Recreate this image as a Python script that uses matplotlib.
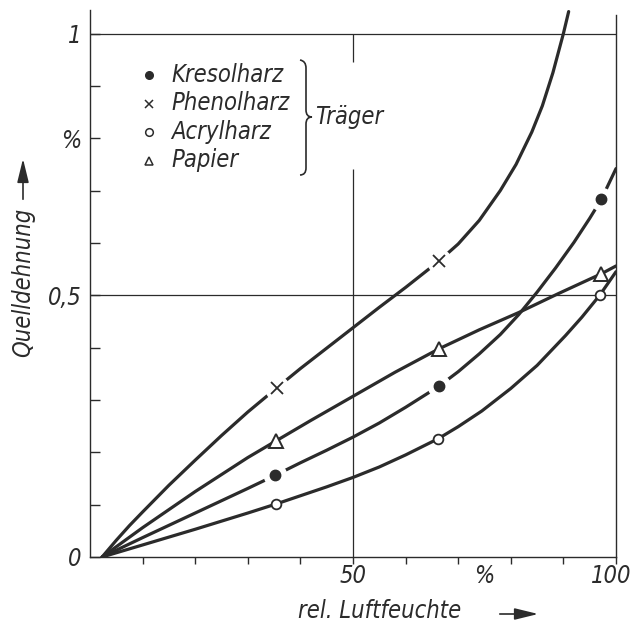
import matplotlib
matplotlib.use("Agg")
import matplotlib.pyplot as plt
from matplotlib.path import Path
from matplotlib.patches import PathPatch, FancyArrowPatch
from matplotlib.lines import Line2D

# values: rel. humidity (%) -> swelling (%)
kresol_x = [2.3, 10, 20, 30, 35.2, 40, 45, 50, 55, 60, 66.3, 70, 74, 78, 81.5, 85, 88.5, 92, 95, 97.2, 100]
kresol_y = [0, 0.037, 0.084, 0.131, 0.156, 0.18, 0.204, 0.229, 0.256, 0.286, 0.326, 0.354, 0.388, 0.425,
            0.463, 0.506, 0.552, 0.601, 0.647, 0.683, 0.742]
kresol_mx = [35.2, 66.3, 97.2]
kresol_my = [0.156, 0.326, 0.683]

phenol_x = [2.3, 5, 7.5, 10, 15, 20, 25, 30, 35.5, 40, 45, 50, 55, 60, 66.3, 70, 74, 78, 81, 84, 86, 88, 90, 91]
phenol_y = [0, 0.032, 0.06, 0.086, 0.137, 0.185, 0.232, 0.277, 0.323, 0.36, 0.399, 0.438, 0.477, 0.515,
            0.565, 0.598, 0.643, 0.7, 0.75, 0.812, 0.862, 0.925, 1.0, 1.042]
phenol_mx = [35.5, 66.3]
phenol_my = [0.323, 0.565]

acryl_x = [2.3, 10, 20, 30, 35.3, 40, 45, 50, 55, 60, 66.2, 70, 74.5, 80, 85, 90.4, 93.5, 96.9, 100]
acryl_y = [0, 0.023, 0.053, 0.084, 0.101, 0.117, 0.134, 0.152, 0.172, 0.195, 0.226, 0.249, 0.279, 0.322,
           0.366, 0.423, 0.458, 0.5, 0.545]
acryl_mx = [35.3, 66.2, 96.9]
acryl_my = [0.101, 0.226, 0.5]

papier_x = [2.3, 10, 20, 30, 35.4, 42, 50, 58, 66.4, 74, 81.5, 89, 97.2, 100]
papier_y = [0, 0.056, 0.125, 0.19, 0.222, 0.261, 0.307, 0.353, 0.398, 0.434, 0.467, 0.503, 0.541, 0.556]
papier_mx = [35.4, 66.4, 97.2]
papier_my = [0.222, 0.398, 0.541]

names = ["Kresolharz", "Phenolharz", "Acrylharz", "Papier"]

ink = "#2b2b2b"
plt.rcParams["font.family"] = ["DejaVu Sans"]
tfont = dict(style="italic", stretch="condensed", size=17, color=ink)

fig = plt.figure(figsize=(6.34, 6.26), dpi=100)
ax = fig.add_axes([90 / 634, 1 - 557 / 626, 526 / 634, 547 / 626])
ax.set_xlim(0, 100)
ax.set_ylim(0, 1.045)


def axfrac(px, py):
    # pixel position in the figure -> axes fraction
    return (px - 90) / 526, (557 - py) / 547


# grid lines
ax.axhline(0.5, color=ink, lw=0.9, zorder=1)
ax.axhline(1.0, color=ink, lw=0.9, zorder=1)
ax.vlines([50, 50], [0, 0.945], [0.742, 1.0], color=ink, lw=0.9, zorder=1)

lw = 2.3
for xs, ys in [(kresol_x, kresol_y), (phenol_x, phenol_y), (acryl_x, acryl_y), (papier_x, papier_y)]:
    ax.plot(xs, ys, color=ink, lw=lw, solid_capstyle="round", solid_joinstyle="round", zorder=3)

# gaps in the curves around the markers
ax.plot(kresol_mx, kresol_my, "o", ms=16, color="white", zorder=4)
ax.plot(phenol_mx, phenol_my, "o", ms=17, color="white", zorder=4)

ax.plot(kresol_mx, kresol_my, "o", ms=7.5, color=ink, zorder=5)
ax.plot(phenol_mx, phenol_my, "x", ms=9, mew=1.3, color=ink, zorder=5)
ax.plot(acryl_mx, acryl_my, "o", ms=7, mfc="white", mec=ink, mew=1.3, zorder=5)
ax.plot(papier_mx, papier_my, "^", ms=10, mfc="white", mec=ink, mew=1.4, zorder=5)

# axes frame
ax.spines["top"].set_visible(False)
ax.spines["right"].set_bounds(0, 1.035)
for s in ["left", "bottom", "right"]:
    ax.spines[s].set_color(ink)
    ax.spines[s].set_linewidth(1.0)

ax.set_xticks(range(10, 101, 10))
ax.set_xticklabels(["", "", "", "", "50", "", "", "", "", ""], **tfont)
ax.tick_params(axis="x", direction="out", length=5, width=1, color=ink, pad=0)
ax.set_yticks([i / 10 for i in range(11)])
ax.set_yticklabels(["0", "", "", "", "", "0,5", "", "", "%", "", "1"], **tfont)
ax.tick_params(axis="y", direction="in", length=7, width=1, color=ink, pad=6)
ax.text(75, -0.012, "%", ha="center", va="top", transform=ax.get_xaxis_transform(), **tfont)
ax.text(103, -0.012, "100", ha="right", va="top", transform=ax.get_xaxis_transform(),
        clip_on=False, **tfont)

# axis titles with arrows
fig.text(298 / 634, 1 - 611 / 626, "rel. Luftfeuchte", ha="left", va="center", **tfont)
fig.add_artist(FancyArrowPatch((497 / 634, 1 - 614 / 626), (541 / 634, 1 - 614 / 626),
                               transform=fig.transFigure, arrowstyle="-|>,head_length=0.9,head_width=0.22",
                               mutation_scale=16, lw=1.2, color=ink))
fig.text(23 / 634, 1 - 282 / 626, "Quelldehnung", ha="center", va="center", rotation=90, **tfont)
fig.add_artist(FancyArrowPatch((23 / 634, 1 - 202 / 626), (23 / 634, 1 - 156 / 626),
                               transform=fig.transFigure, arrowstyle="-|>,head_length=0.9,head_width=0.22",
                               mutation_scale=16, lw=1.2, color=ink))

# legend with brace
keys = [dict(marker="o", ms=5.5, color=ink),
        dict(marker="x", ms=6, mew=1.1, color=ink),
        dict(marker="o", ms=5.5, mfc="white", mec=ink, mew=1.1),
        dict(marker="^", ms=6, mfc="white", mec=ink, mew=1.1)]
for i, name in enumerate(names):
    py = 75 + i * 28.5
    mx, my = axfrac(149, py)
    ax.add_line(Line2D([mx], [my], linestyle="none", transform=ax.transAxes, **keys[i]))
    tx, ty = axfrac(171, py)
    ax.text(tx, ty, name, ha="left", va="center", transform=ax.transAxes, **tfont)

pts = [(300, 60), (306, 61), (306, 68), (306, 110), (306, 117), (312, 117),
       (306, 117), (306, 124), (306, 168), (306, 175), (300, 175)]
codes = [Path.MOVETO, Path.CURVE3, Path.CURVE3, Path.LINETO, Path.CURVE3, Path.CURVE3,
         Path.CURVE3, Path.CURVE3, Path.LINETO, Path.CURVE3, Path.CURVE3]
brace = Path([axfrac(*p) for p in pts], codes)
ax.add_patch(PathPatch(brace, transform=ax.transAxes, fill=False, color=ink, lw=1.2))
bx, by = axfrac(315, 117)
ax.text(bx, by, "Träger", ha="left", va="center", transform=ax.transAxes, **tfont)

fig.savefig("out.png", dpi=100)
